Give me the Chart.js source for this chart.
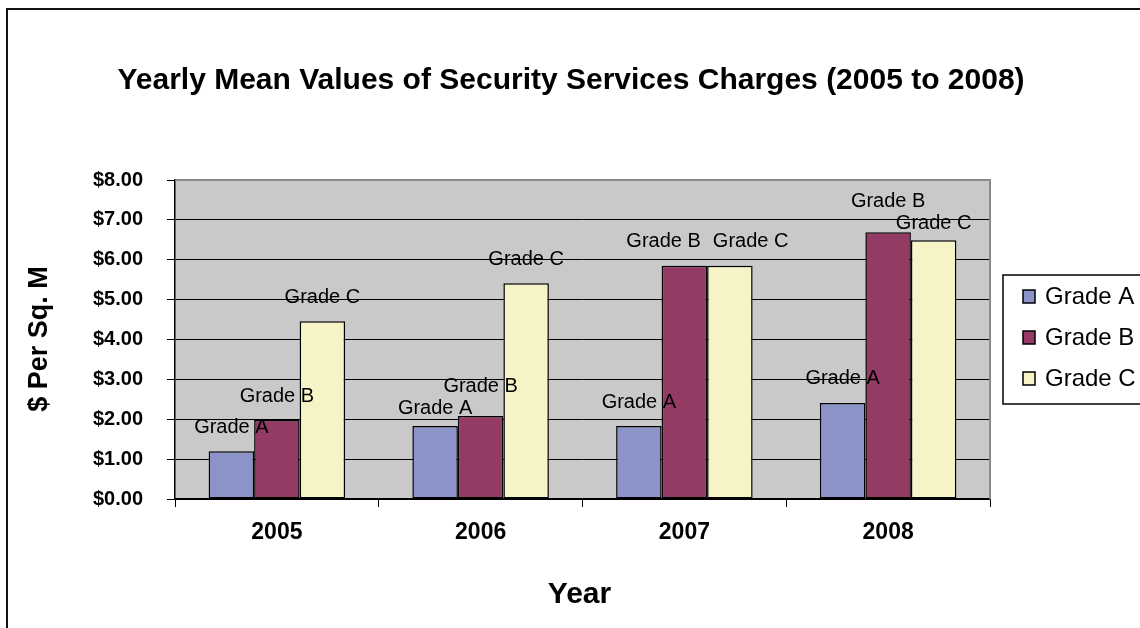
<!DOCTYPE html>
<html>
<head>
<meta charset="utf-8">
<script src="https://cdn.jsdelivr.net/npm/chart.js@4/dist/chart.umd.min.js"></script>
<style>
  html, body { margin: 0; padding: 0; background: #fff; }
  #wrap { width: 1140px; height: 628px; }
</style>
</head>
<body>
<div id="wrap"><canvas id="chargesChart" width="1140" height="628"></canvas></div>
<script>
// Yearly mean security charges, $ per sq. m
const years = ['2005', '2006', '2007', '2008'];
const gradeA = [1.20, 1.83, 1.83, 2.41];
const gradeB = [1.98, 2.08, 5.85, 6.69];
const gradeC = [4.46, 5.41, 5.85, 6.49];
const seriesNames = ['Grade A', 'Grade B', 'Grade C'];

const FONT = '"Liberation Sans", Arial, sans-serif';
const LABEL_H = 22;

// place series-name labels above bars, nudging neighbours that collide
function labelPositions(chart, ctx) {
    const out = [];
    chart.data.labels.forEach((_, j) => {
        const group = chart.data.datasets.map((ds, i) => {
            const bar = chart.getDatasetMeta(i).data[j];
            return { text: ds.label, x: bar.x, y: bar.y - 24, w: ctx.measureText(ds.label).width };
        });
        for (let k = 1; k < group.length; k++) {
            const p = group[k - 1], q = group[k];
            const dx = q.x - p.x, dy = q.y - p.y;
            const needX = (p.w + q.w) / 2 + 12;
            if (Math.abs(dx) >= needX || Math.abs(dy) >= LABEL_H) continue;
            if (Math.abs(dy) < 4) {
                const push = (needX - dx) / 2;
                p.x -= push; q.x += push;
            } else {
                const push = (LABEL_H - Math.abs(dy)) / 2;
                const s = dy > 0 ? 1 : -1;
                p.y -= s * push; q.y += s * push;
            }
        }
        out.push(...group);
    });
    return out;
}

// Frame, titles, legend and series-name labels
const decor = {
    id: 'decor',
    beforeDraw(chart) {
        const { ctx, chartArea: a } = chart;
        ctx.save();
        ctx.fillStyle = '#c9c9c9';
        ctx.fillRect(a.left, a.top, a.right - a.left, a.bottom - a.top);
        ctx.restore();
    },
    afterDraw(chart) {
        const { ctx, chartArea: a } = chart;
        ctx.save();

        // plot area border
        ctx.strokeStyle = '#8a8a8a';
        ctx.lineWidth = 2;
        ctx.beginPath();
        ctx.moveTo(a.left, a.top);
        ctx.lineTo(a.right, a.top);
        ctx.lineTo(a.right, a.bottom);
        ctx.stroke();

        // outer frame (runs off the right and bottom)
        ctx.strokeStyle = '#111';
        ctx.lineWidth = 2;
        ctx.beginPath();
        ctx.moveTo(7, 640);
        ctx.lineTo(7, 9);
        ctx.lineTo(1150, 9);
        ctx.stroke();

        ctx.fillStyle = '#000';
        ctx.textAlign = 'center';
        ctx.textBaseline = 'middle';

        ctx.font = 'bold 30px ' + FONT;
        ctx.fillText('Yearly Mean Values of Security Services Charges (2005 to 2008)', 571, 81);

        ctx.font = 'bold 30px ' + FONT;
        ctx.fillText('Year', (a.left + a.right) / 2 - 3, 595);

        ctx.save();
        ctx.translate(40, 339);
        ctx.rotate(-Math.PI / 2);
        ctx.font = 'bold 27px ' + FONT;
        ctx.fillText('$ Per Sq. M', 0, 0);
        ctx.restore();

        // series name above each bar
        ctx.font = '20px ' + FONT;
        labelPositions(chart, ctx).forEach(l => ctx.fillText(l.text, l.x, l.y));

        // legend
        ctx.fillStyle = '#fff';
        ctx.fillRect(1003, 275, 150, 129);
        ctx.strokeStyle = '#000';
        ctx.lineWidth = 1.5;
        ctx.strokeRect(1003, 275, 150, 129);
        ctx.font = '24px ' + FONT;
        ctx.textAlign = 'left';
        chart.data.datasets.forEach((ds, i) => {
            const y = 296 + i * 41;
            ctx.fillStyle = ds.backgroundColor;
            ctx.fillRect(1023, y - 6, 12, 13);
            ctx.strokeStyle = '#000';
            ctx.lineWidth = 1.5;
            ctx.strokeRect(1023, y - 6, 12, 13);
            ctx.fillStyle = '#000';
            ctx.fillText(ds.label, 1045, y + 1);
        });

        ctx.restore();
    }
};

const ctx = document.getElementById('chargesChart').getContext('2d');
const chart = new Chart(ctx, {
    type: 'bar',
    data: {
        labels: years,
        datasets: [
            { label: seriesNames[0], data: gradeA, backgroundColor: '#8b93c9' },
            { label: seriesNames[1], data: gradeB, backgroundColor: '#933a65' },
            { label: seriesNames[2], data: gradeC, backgroundColor: '#f6f4c7' }
        ].map(ds => Object.assign(ds, {
            borderColor: '#000',
            borderWidth: 1.5,
            borderSkipped: false,
            categoryPercentage: 0.67,
            barPercentage: 1.0
        }))
    },
    options: {
        responsive: false,
        animation: false,
        devicePixelRatio: 1,
        layout: { padding: { left: 0, right: 150, top: 180, bottom: 0 } },
        plugins: {
            legend: { display: false },
            title: { display: false },
            tooltip: { enabled: false }
        },
        scales: {
            x: {
                afterFit: s => { s.height = 129; },
                grid: {
                    offset: true,
                    drawOnChartArea: false,
                    color: '#000',
                    tickLength: 8
                },
                border: { color: '#000', width: 1.5 },
                ticks: {
                    color: '#000',
                    padding: 12,
                    font: { family: FONT, size: 23, weight: 'bold' }
                }
            },
            y: {
                min: 0,
                max: 8,
                afterFit: s => { s.width = 175; },
                grid: { color: '#000', tickLength: 8, lineWidth: 1 },
                border: { color: '#000', width: 1.5 },
                ticks: {
                    stepSize: 1,
                    color: '#000',
                    padding: 24,
                    font: { family: FONT, size: 20, weight: 'bold' },
                    callback: v => '$' + v.toFixed(2)
                }
            }
        }
    },
    plugins: [decor]
});
</script>
</body>
</html>
